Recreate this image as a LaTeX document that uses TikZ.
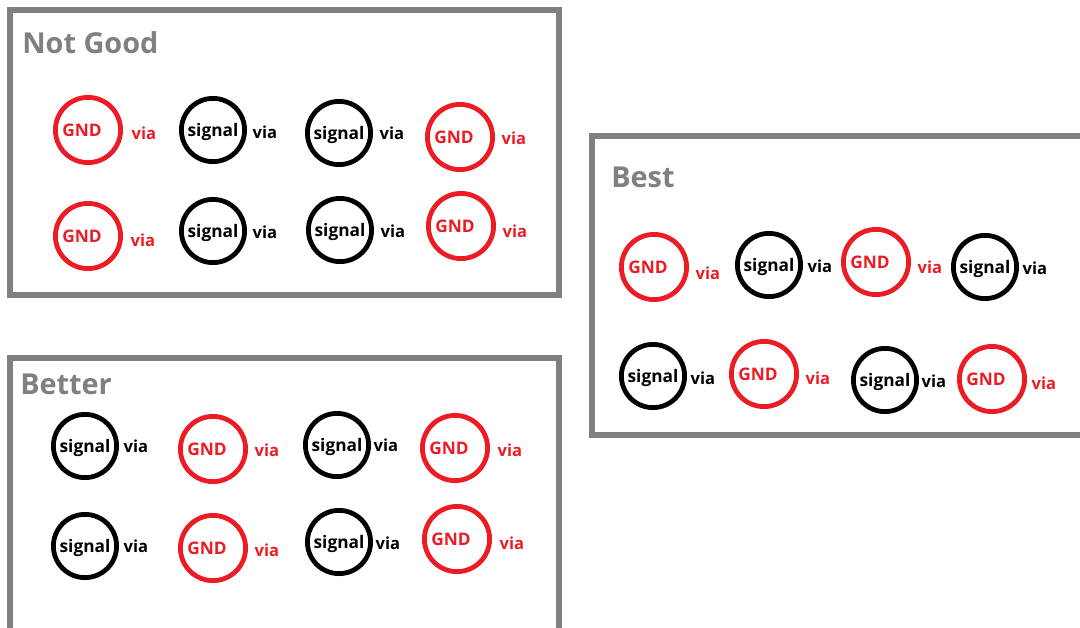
\documentclass[tikz,border=0pt]{standalone}
\usepackage{fontspec}
\setmainfont{Open Sans}
\definecolor{gndred}{RGB}{237,28,36}
\definecolor{boxgray}{RGB}{128,128,128}

\begin{document}
\begin{tikzpicture}[
  x=0.025cm, y=-0.025cm,
  panel/.style={draw=boxgray, line width=3.6pt},
  heading/.style={anchor=base west, inner sep=0pt, text=boxgray,
    font=\fontsize{20.5}{24}\selectfont\bfseries},
  gnd/.style={circle, draw=gndred, line width=3.4pt, minimum size=1.63cm,
    inner sep=0pt, text depth=0pt, text=gndred,
    execute at begin node=\hspace*{-0.3cm},
    font=\fontsize{12.3}{14}\selectfont\bfseries},
  sig/.style={circle, draw=black, line width=3.4pt, minimum size=1.58cm,
    inner sep=0pt, text depth=0pt, text=black,
    font=\fontsize{12.3}{14}\selectfont\bfseries},
  via/.style={inner sep=0pt, text=black, font=\fontsize{11.8}{14}\selectfont\bfseries},
  gvia/.style={via, text=gndred},
]
  \useasboundingbox (0,0) rectangle (1080,627);

  % panels
  \draw[panel] (10,10) rectangle (559,295);
  \draw[panel] (10,358) rectangle (559,640);
  \draw[panel] (592,136) rectangle (1095,435);

  \node[heading] (tn) at (22,53)  {Not Good};
  \node[heading] (tr) at (20,394) {Better};
  \node[heading] (tb) at (611,187) {Best};

  % not good
  \node[gnd] (n11) at (88,130)  {GND};
  \node[gvia] (n11v) at (144,133) {via};
  \node[sig] (n12) at (213,130) {signal};
  \node[via] (n12v) at (265,132) {via};
  \node[sig] (n13) at (339,133) {signal};
  \node[via] (n13v) at (392,133) {via};
  \node[gnd] (n14) at (460,137) {GND};
  \node[gvia] (n14v) at (514,138) {via};

  \node[gnd] (n21) at (88,236)  {GND};
  \node[gvia] (n21v) at (143,240) {via};
  \node[sig] (n22) at (213,231) {signal};
  \node[via] (n22v) at (265,232) {via};
  \node[sig] (n23) at (340,230) {signal};
  \node[via] (n23v) at (393,231) {via};
  \node[gnd] (n24) at (461,226) {GND};
  \node[gvia] (n24v) at (515,231) {via};

  % better
  \node[sig] (r11) at (85,446)  {signal};
  \node[via] (r11v) at (136,446) {via};
  \node[gnd] (r12) at (213,449) {GND};
  \node[gvia] (r12v) at (267,450) {via};
  \node[sig] (r13) at (337,445) {signal};
  \node[via] (r13v) at (386,445) {via};
  \node[gnd] (r14) at (455,448) {GND};
  \node[gvia] (r14v) at (510,450) {via};

  \node[sig] (r21) at (85,546)  {signal};
  \node[via] (r21v) at (136,546) {via};
  \node[gnd] (r22) at (213,548) {GND};
  \node[gvia] (r22v) at (267,550) {via};
  \node[sig] (r23) at (339,542) {signal};
  \node[via] (r23v) at (388,543) {via};
  \node[gnd] (r24) at (457,539) {GND};
  \node[gvia] (r24v) at (512,543) {via};

  % best
  \node[gnd] (b11) at (654,267) {GND};
  \node[gvia] (b11v) at (708,273) {via};
  \node[sig] (b12) at (769,265) {signal};
  \node[via] (b12v) at (820,266) {via};
  \node[gnd] (b13) at (876,262) {GND};
  \node[gvia] (b13v) at (930,267) {via};
  \node[sig] (b14) at (985,267) {signal};
  \node[via] (b14v) at (1035,268) {via};

  \node[sig] (b21) at (653,376) {signal};
  \node[via] (b21v) at (703,378) {via};
  \node[gnd] (b22) at (764,374) {GND};
  \node[gvia] (b22v) at (818,378) {via};
  \node[sig] (b23) at (885,380) {signal};
  \node[via] (b23v) at (934,381) {via};
  \node[gnd] (b24) at (992,379) {GND};
  \node[gvia] (b24v) at (1044,383) {via};
\end{tikzpicture}
\end{document}
